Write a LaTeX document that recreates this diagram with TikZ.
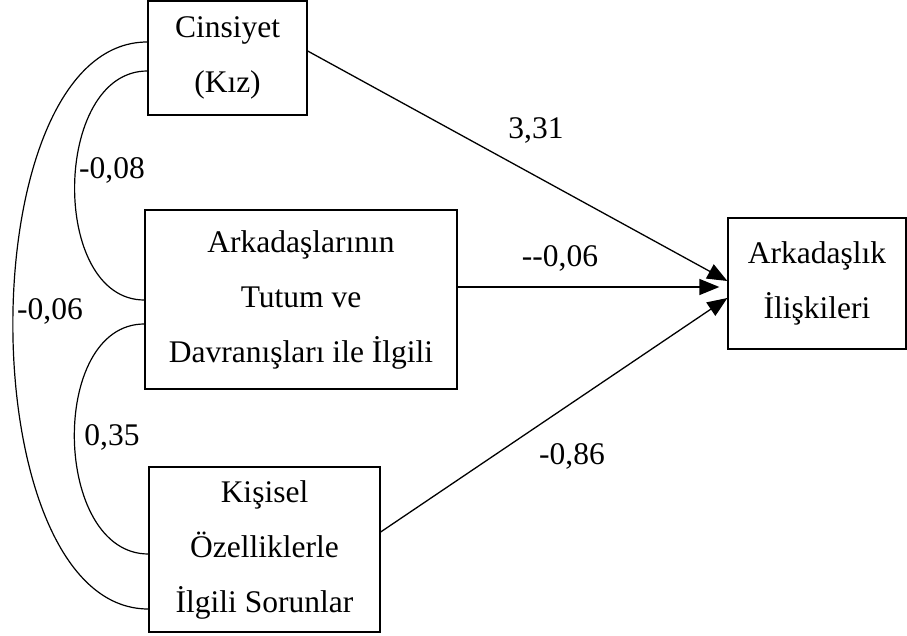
\documentclass[tikz,border=0pt]{standalone}
\usepackage{fontspec}
\setmainfont{Liberation Serif}
\usetikzlibrary{arrows.meta,calc}
\begin{document}
\begin{tikzpicture}[x=1pt,y=-1pt,
  box/.style={draw,line width=1.3pt,inner sep=0pt,align=center,
    font=\fontsize{31.5}{55}\selectfont},
  lbl/.style={inner sep=0pt,font=\fontsize{31.5}{36}\selectfont},
  path/.style={line width=1.3pt,-{Triangle[length=20pt,width=16pt]}},
  cov/.style={line width=1.2pt}]
\useasboundingbox (0,0) rectangle (907,636);
\node[box,minimum width=159pt,minimum height=114pt] (cins) at (227.5,58) {Cinsiyet\\(Kız)};
\node[box,minimum width=312pt,minimum height=179pt] (ark) at (301,299.5) {Arkadaşlarının\\Tutum ve\\Davranışları ile İlgili};
\node[box,minimum width=231pt,minimum height=165pt] (kis) at (264.5,549.5) {Kişisel\\Özelliklerle\\İlgili Sorunlar};
\node[box,minimum width=178pt,minimum height=131pt] (ili) at (817,283.5) {Arkadaşlık\\İlişkileri};
% connector anchors
\coordinate (c1) at ($(cins.east)+(0,-7)$);
\coordinate (i1) at ($(ili.west)+(0,-2.5)$);
\coordinate (a1) at (ark.east |- 0,287);
\coordinate (i2) at ($(ili.west |- 0,287)+(-8,0)$);
\coordinate (k1) at (kis.east |- 0,532);
\coordinate (i3) at ($(ili.west)+(0,14.5)$);
\draw[path] (c1) -- (i1);
\draw[path] (a1) -- (i2);
\draw[path] (k1) -- (i3);
% correlations
\coordinate (ct1) at (cins.west |- 0,71);
\coordinate (at1) at (ark.west |- 0,300);
\coordinate (at2) at (ark.west |- 0,324);
\coordinate (kt1) at (kis.west |- 0,554);
\coordinate (ct2) at (cins.west |- 0,42);
\coordinate (kt2) at (kis.west |- 0,609);
\draw[cov] (ct1) .. controls ($(ct1)+(-95,0)$) and ($(at1)+(-95,0)$) .. (at1);
\draw[cov] (at2) .. controls ($(at2)+(-96,0)$) and ($(kt1)+(-96,0)$) .. (kt1);
\draw[cov] (ct2) .. controls ($(ct2)+(-180,0)$) and ($(kt2)+(-180,0)$) .. (kt2);
% labels
\node[lbl] (l1) at (536,130) {3,31};
\node[lbl] (l2) at (560,258) {-\kern0pt-0,06};
\node[lbl] (l3) at (572,456) {-0,86};
\node[lbl] (l4) at (112,170) {-0,08};
\node[lbl] (l5) at (50,311) {-0,06};
\node[lbl] (l6) at (112,437) {0,35};
\end{tikzpicture}
\end{document}
